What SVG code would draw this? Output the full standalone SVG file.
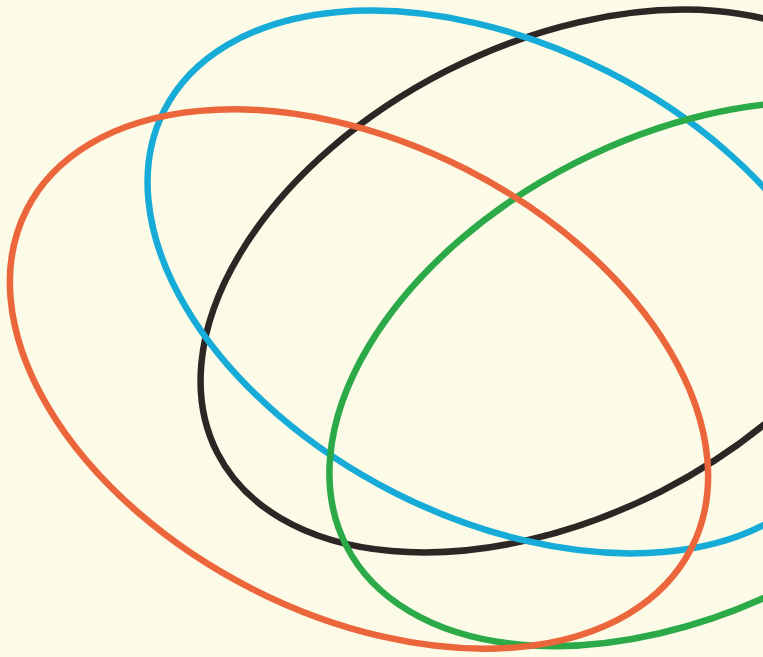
<svg xmlns="http://www.w3.org/2000/svg" width="763" height="657" viewBox="0 0 763 657">
  <style>
    .ring { fill: none; stroke-width: 6.5; }
    .black { stroke: #2d2624; }
    .blue { stroke: #17abd8; }
    .green { stroke: #2caa48; }
    .orange { stroke: #ec663b; }
  </style>
  <rect x="0" y="0" width="763" height="657" fill="#fcfbe7"/>
  <g id="black-ellipse">
    <ellipse class="ring black" cx="0" cy="0" rx="378" ry="236" transform="translate(554 281) rotate(-27)"/>
  </g>
  <g id="blue-ellipse">
    <ellipse class="ring blue" cx="0" cy="0" rx="378" ry="236" transform="translate(501 282) rotate(27)"/>
  </g>
  <g id="green-ellipse">
    <ellipse class="ring green" cx="0" cy="0" rx="378" ry="237" transform="translate(683 374) rotate(-27)"/>
  </g>
  <g id="orange-ellipse">
    <ellipse class="ring orange" cx="0" cy="0" rx="373" ry="235.5" transform="translate(359 379) rotate(27)"/>
  </g>
</svg>
